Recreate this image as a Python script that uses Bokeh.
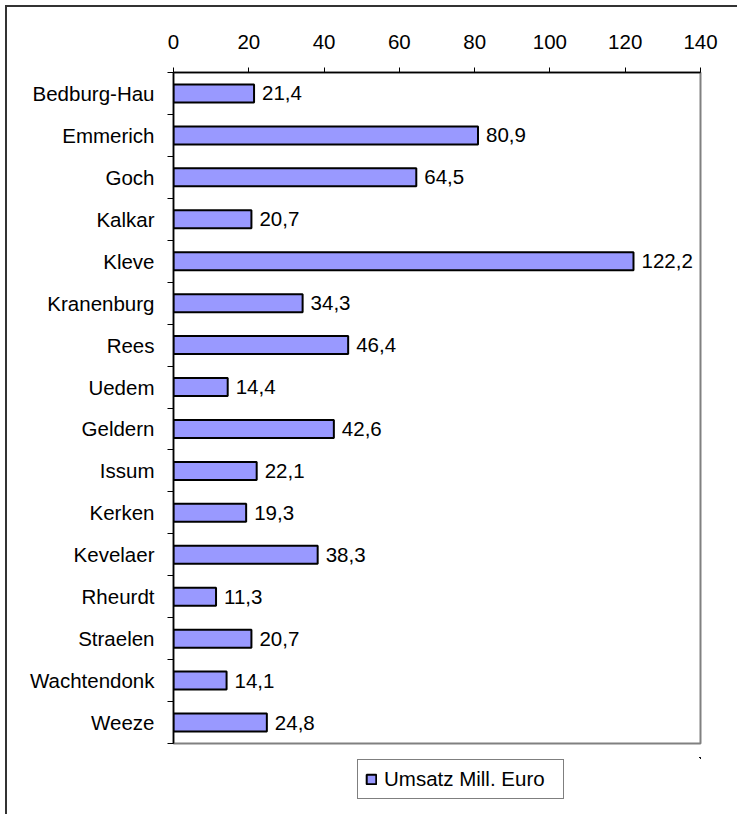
from bokeh.plotting import figure
from bokeh.layouts import column
from bokeh.models import (ColumnDataSource, Range1d, FixedTicker, Legend, LegendItem,
                          LabelSet)
from bokeh.core.properties import value
from bokeh.embed import file_html
from bokeh.resources import INLINE

towns = ["Bedburg-Hau", "Emmerich", "Goch", "Kalkar", "Kleve", "Kranenburg", "Rees",
         "Uedem", "Geldern", "Issum", "Kerken", "Kevelaer", "Rheurdt", "Straelen",
         "Wachtendonk", "Weeze"]
umsatz = [21.4, 80.9, 64.5, 20.7, 122.2, 34.3, 46.4, 14.4, 42.6, 22.1, 19.3, 38.3,
          11.3, 20.7, 14.1, 24.8]
x_ticks = [0, 20, 40, 60, 80, 100, 120, 140]
series_name = "Umsatz Mill. Euro"

FONT = "Liberation Sans"
FSIZE = "20.5px"
BAR_FILL = "#9999FF"
n = len(towns)
ypos = [i + 0.5 for i in range(n)]
labels = [f"{v:.1f}".replace(".", ",") for v in umsatz]

src = ColumnDataSource(dict(y=ypos, v=umsatz, town=towns, lab=labels))

p = figure(width=730, height=750, output_backend="svg", toolbar_location=None,
           x_range=Range1d(0, 140), y_range=Range1d(n, 0),
           x_axis_location="above",
           min_border_left=166, min_border_right=37, min_border_top=65,
           min_border_bottom=14)

p.xgrid.visible = False
p.ygrid.visible = False
p.outline_line_color = "#808080"
p.outline_line_width = 2

bars = p.hbar(y="y", right="v", left=0, height=0.43, source=src,
              fill_color=BAR_FILL, line_color="black", line_width=2)

lbl = LabelSet(x="v", y="y", text="lab", source=src, x_offset=8,
               text_baseline="middle", text_font=value(FONT),
               text_font_size=value(FSIZE), text_color="black")
p.add_layout(lbl)

xa = p.xaxis[0]
xa.ticker = FixedTicker(ticks=x_ticks, minor_ticks=[])
xa.major_label_text_font = FONT
xa.major_label_text_font_size = FSIZE
xa.major_label_text_color = "black"
xa.axis_line_color = "black"
xa.axis_line_width = 1.5
xa.major_tick_line_color = "black"
xa.major_tick_out = 5
xa.major_tick_in = 0
xa.major_label_standoff = 19

ya = p.yaxis[0]
ya.ticker = FixedTicker(ticks=ypos, minor_ticks=list(range(n + 1)))
ya.major_label_overrides = {y: t for y, t in zip(ypos, towns)}
ya.major_label_text_font = FONT
ya.major_label_text_font_size = FSIZE
ya.major_label_text_color = "black"
ya.axis_line_color = "black"
ya.axis_line_width = 1.5
ya.major_tick_out = 0
ya.major_tick_in = 0
ya.minor_tick_out = 6
ya.minor_tick_in = 0
ya.minor_tick_line_color = "black"
ya.major_label_standoff = 13

# legend strip below the chart (its frame lines up with the chart frame)
lf = figure(width=730, height=57, output_backend="svg", toolbar_location=None,
            x_range=Range1d(-20, -10), y_range=Range1d(-20, -10),
            min_border=0, min_border_left=0, min_border_right=0,
            min_border_top=0, min_border_bottom=0)
lf.axis.visible = False
lf.grid.visible = False
lf.outline_line_color = None
proxy = lf.hbar(y="y", right="v", left=0, height=0.43, source=src,
                fill_color=BAR_FILL, line_color="black", line_width=2)

legend = Legend(items=[LegendItem(label=series_name, renderers=[proxy])],
                location=(184, 15), orientation="horizontal",
                label_text_font=FONT, label_text_font_size=FSIZE,
                label_text_color="black", glyph_width=12, glyph_height=12,
                label_standoff=7, label_width=172, label_height=21,
                padding=7, margin=0, spacing=0,
                border_line_color="black", border_line_width=1,
                background_fill_alpha=1)
lf.add_layout(legend, "center")

layout = column(p, lf, spacing=0)
layout.styles = {"border-left": "2px solid #333333", "border-top": "2px solid #333333",
                 "margin-left": "5px", "margin-top": "5px"}

open("out.html", "w").write(file_html(layout, INLINE))
